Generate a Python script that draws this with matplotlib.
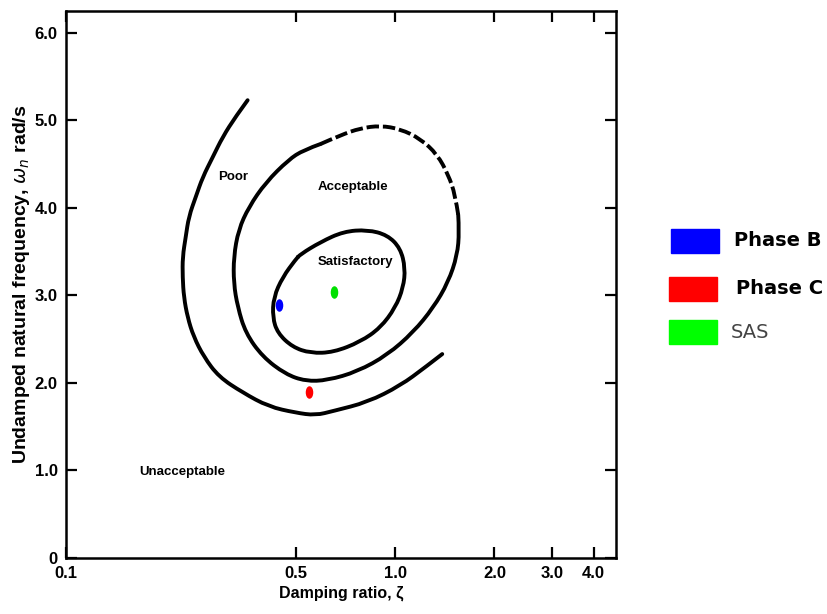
import matplotlib
matplotlib.use('Agg')
from matplotlib import pyplot as plt
from matplotlib.path import Path
from matplotlib.patches import Rectangle, PathPatch
import numpy as np

# boundary curves (damping ratio, natural frequency)
poor_zeta = [0.356, 0.327, 0.299, 0.279, 0.260, 0.248, 0.236, 0.231, 0.226, 0.226,
             0.228, 0.234, 0.244, 0.262, 0.291, 0.344, 0.412, 0.498, 0.572, 0.649,
             0.823, 1.036, 1.233, 1.388]
poor_omega = [5.23, 5.04, 4.81, 4.58, 4.35, 4.13, 3.90, 3.67, 3.44, 3.21,
              2.98, 2.75, 2.53, 2.30, 2.07, 1.89, 1.73, 1.66, 1.63, 1.68,
              1.78, 1.97, 2.18, 2.33]

acc_zeta = [1.552, 1.563, 1.542, 1.447, 1.304, 1.134, 0.946, 0.767, 0.622, 0.534,
            0.464, 0.395, 0.351, 0.332, 0.323, 0.323, 0.334, 0.359, 0.404, 0.474,
            0.526, 0.593]
acc_omega = [3.92, 3.73, 3.46, 3.15, 2.86, 2.58, 2.32, 2.13, 2.03, 2.02,
             2.10, 2.30, 2.57, 2.87, 3.14, 3.44, 3.75, 4.01, 4.29, 4.55,
             4.66, 4.73]

# dashed upper part of the acceptable boundary
accd_zeta = [0.593, 0.681, 0.783, 0.901, 1.036, 1.191, 1.341, 1.447, 1.520, 1.552]
accd_omega = [4.73, 4.83, 4.91, 4.94, 4.90, 4.79, 4.61, 4.38, 4.15, 3.92]

# closed loop
sat_zeta = [0.515, 0.593, 0.696, 0.823, 0.946, 1.036, 1.072, 1.057, 1.000, 0.901,
            0.783, 0.649, 0.553, 0.487, 0.439, 0.424, 0.427, 0.455, 0.498]
sat_omega = [3.47, 3.61, 3.73, 3.75, 3.69, 3.54, 3.31, 3.09, 2.86, 2.63,
             2.47, 2.35, 2.34, 2.41, 2.57, 2.75, 2.98, 3.21, 3.41]

# test points
phases = ['Phase B', 'Phase C', 'SAS']
phase_zeta = [0.442, 0.545, 0.653]
phase_omega = [2.89, 1.90, 3.04]
phase_colors = ['#0000ff', '#ff0000', '#00e000']
legend_colors = ['#0000ff', '#ff0000', '#00ff00']

region_names = ['Poor', 'Acceptable', 'Satisfactory', 'Unacceptable']
region_zeta = [0.321, 0.746, 0.756, 0.226]
region_omega = [4.35, 4.24, 3.38, 0.98]

xticks = [0.1, 0.5, 1.0, 2.0, 3.0, 4.0]
xtick_labels = ['0.1', '0.5', '1.0', '2.0', '3.0', '4.0']
yticks = [0, 1, 2, 3, 4, 5, 6]
ytick_labels = ['0', '1.0', '2.0', '3.0', '4.0', '5.0', '6.0']

sans = ['Liberation Sans', 'DejaVu Sans']


def mid(a, b):
    # midpoint on a log-x / linear-y plot
    return (np.sqrt(a[0] * b[0]), (a[1] + b[1]) / 2)


def smooth_path(zs, ws, closed=False):
    # quadratic B-spline style path using the read points as control points
    pts = list(zip(zs, ws))
    n = len(pts)
    if closed:
        verts = [mid(pts[-1], pts[0])]
        codes = [Path.MOVETO]
        for i in range(n):
            verts += [pts[i], mid(pts[i], pts[(i + 1) % n])]
            codes += [Path.CURVE3, Path.CURVE3]
    else:
        verts = [pts[0]]
        codes = [Path.MOVETO]
        for i in range(1, n - 1):
            end = mid(pts[i], pts[i + 1]) if i < n - 2 else pts[-1]
            verts += [pts[i], end]
            codes += [Path.CURVE3, Path.CURVE3]
    return Path(verts, codes)


fig = plt.figure(figsize=(8.28, 6.14), dpi=100)
ax = fig.add_axes([0.0797, 0.0912, 0.664, 0.891])
ax.set_xscale('log')
ax.set_xlim(0.1, 4.67)
ax.set_ylim(0, 6.25)

lw = 2.8
curves = [(poor_zeta, poor_omega, False, '-', 'round'),
          (acc_zeta, acc_omega, False, '-', 'round'),
          (accd_zeta, accd_omega, False, (0, (3.2, 1.0)), 'butt'),
          (sat_zeta, sat_omega, True, '-', 'round')]
for zs, ws, closed, ls, cap in curves:
    ax.add_patch(PathPatch(smooth_path(zs, ws, closed), fill=False, edgecolor='black',
                           lw=lw, linestyle=ls, capstyle=cap, joinstyle='round'))

circ = Path.unit_circle()
ell = Path(circ.vertices * [0.55, 1.0], circ.codes)
for z, w, c in zip(phase_zeta, phase_omega, phase_colors):
    ax.plot([z], [w], marker=ell, markersize=8, color=c, linestyle='none')

for name, z, w in zip(region_names, region_zeta, region_omega):
    ax.text(z, w, name, ha='center', va='center', fontsize=9.5,
            family=sans, fontweight='bold')

ax.set_xticks(xticks)
ax.set_xticklabels(xtick_labels)
ax.minorticks_off()
ax.set_yticks(yticks)
ax.set_yticklabels(ytick_labels)
ax.tick_params(direction='in', top=True, right=True, length=8, width=1.6, pad=6)
for lab in ax.get_xticklabels() + ax.get_yticklabels():
    lab.set_family(sans)
    lab.set_fontweight('bold')
    lab.set_fontsize(12)
for sp in ax.spines.values():
    sp.set_linewidth(1.8)

ax.set_xlabel('Damping ratio, ζ', family=sans, fontweight='bold', fontsize=11.5, labelpad=3)
ax.set_ylabel('Undamped natural frequency, $\\omega_n$ rad/s', family=sans,
              fontweight='bold', fontsize=14, labelpad=2)

# legend drawn beside the chart
box_y = [0.588, 0.510, 0.440]
box_x = [0.810, 0.808, 0.808]
text_x = [0.886, 0.889, 0.883]
text_y = [0.609, 0.530, 0.459]
for i, name in enumerate(phases):
    fig.patches.append(Rectangle((box_x[i], box_y[i]), 0.058, 0.039,
                                 transform=fig.transFigure, color=legend_colors[i]))
    if name == 'SAS':
        fig.text(text_x[i], text_y[i], name, fontsize=14, color='#444444',
                 va='center', family='DejaVu Sans')
    else:
        fig.text(text_x[i], text_y[i], name, fontsize=14, fontweight='bold',
                 va='center', family='DejaVu Sans')

fig.savefig('out.png', dpi=100)
